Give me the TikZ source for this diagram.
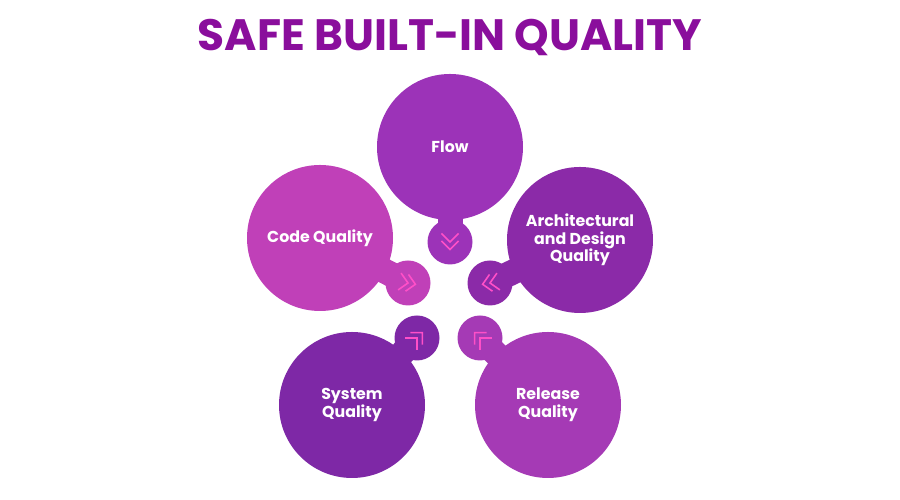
\documentclass[tikz,border=0pt]{standalone}
\usepackage{fontspec}
\setmainfont{Poppins}
\definecolor{titlepurple}{HTML}{8A0E9C}
\definecolor{chevpink}{HTML}{FF4FC8}
\definecolor{cflow}{HTML}{9C33B8}
\definecolor{ccode}{HTML}{C040B8}
\definecolor{carch}{HTML}{8B2AA8}
\definecolor{csys}{HTML}{7E28A6}
\definecolor{crel}{HTML}{A53AB5}
\tikzset{
  bigdot/.style={circle, minimum size=2.92cm, inner sep=0pt, text=white,
    font=\bfseries\fontsize{9}{10}\selectfont, align=center},
  smalldot/.style={circle, minimum size=0.9cm, inner sep=0pt},
  chev/.style={chevpink, line width=0.9pt},
}
\newcommand{\petal}[6]{% name, colour, big pos, small pos, text, angle
  \draw[#2, line width=0.5cm] #3 -- #4;
  \node[bigdot, fill=#2] (#1) at #3 {#5};
  \node[smalldot, fill=#2] (#1s) at #4 {};
  \begin{scope}[shift={(#1s)}, rotate=#6]
    \draw[chev] (-0.17,0.17) -- (0,0) -- (-0.17,-0.17);
    \draw[chev] (-0.02,0.17) -- (0.15,0) -- (-0.02,-0.17);
  \end{scope}
}
\begin{document}
\begin{tikzpicture}
\useasboundingbox (0,0) rectangle (18,10);
\node[text=titlepurple, font=\bfseries\fontsize{25}{28}\selectfont] (title) at (9,9.24) {SAFE BUILT-IN QUALITY};
\petal{flow}{cflow}{(9,7.06)}{(9,5.16)}{Flow}{-90}
\petal{code}{ccode}{(6.4,5.24)}{(8.16,4.34)}{Code Quality}{-10}
\petal{arch}{carch}{(11.6,5.2)}{(9.8,4.34)}{Architectural\\and Design\\Quality}{190}
\petal{sys}{csys}{(7.04,1.9)}{(8.34,3.24)}{System\\Quality}{45}
\petal{rel}{crel}{(10.96,1.9)}{(9.6,3.24)}{Release\\Quality}{135}
\end{tikzpicture}
\end{document}
